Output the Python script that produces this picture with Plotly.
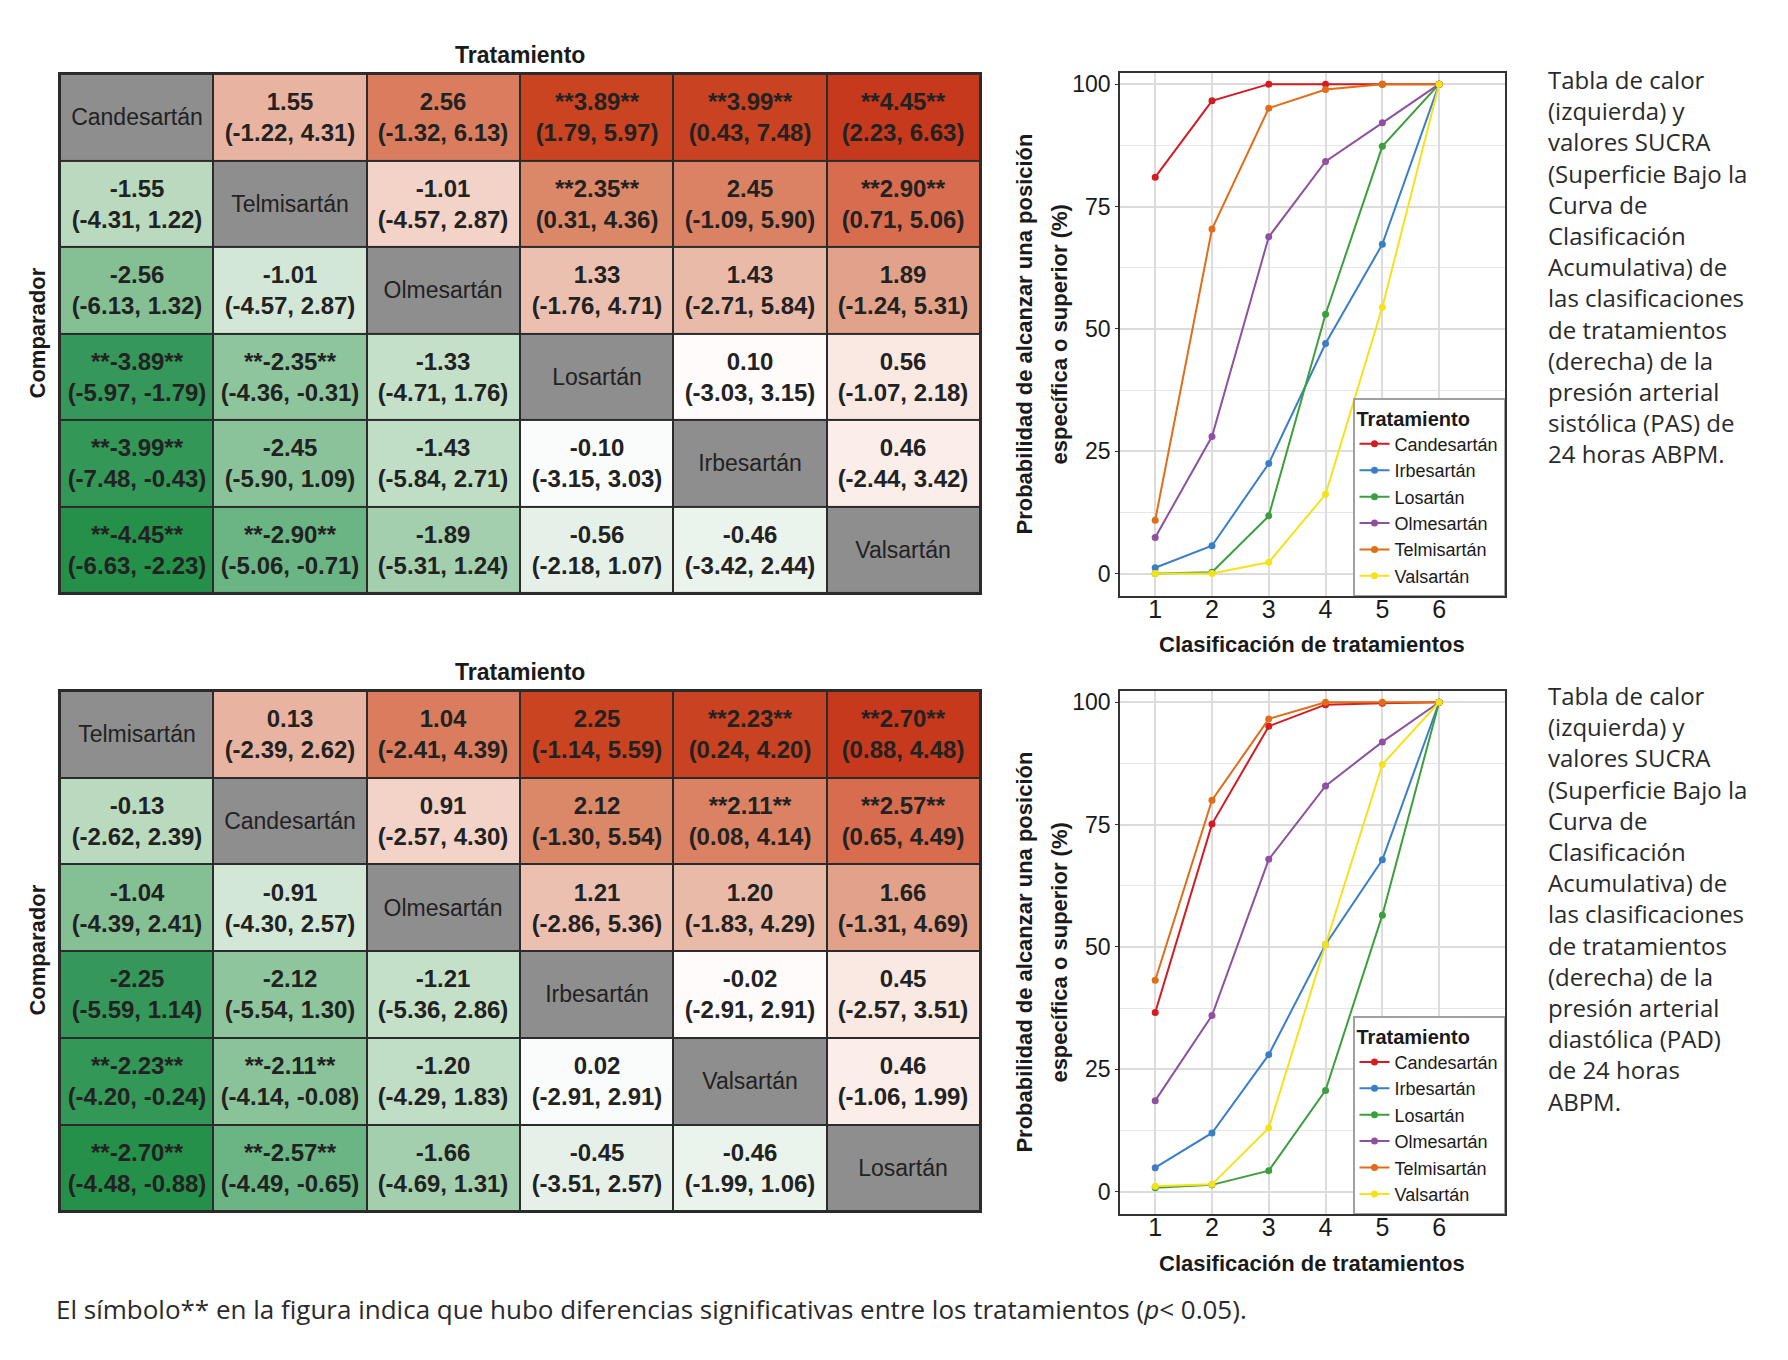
import plotly.graph_objects as go

W, H = 1788, 1360

SANS = "Liberation Sans, Arial, sans-serif"
BODY = "Open Sans, Roboto, sans-serif"

# --- tablas de calor -------------------------------------------------------
farmacos_pas = ['Candesartán', 'Telmisartán', 'Olmesartán', 'Losartán', 'Irbesartán', 'Valsartán']
farmacos_pad = ['Telmisartán', 'Candesartán', 'Olmesartán', 'Irbesartán', 'Valsartán', 'Losartán']

# fila = comparador, columna = tratamiento
dif_pas = [
    [None, 1.55, 2.56, 3.89, 3.99, 4.45],
    [-1.55, None, -1.01, 2.35, 2.45, 2.90],
    [-2.56, -1.01, None, 1.33, 1.43, 1.89],
    [-3.89, -2.35, -1.33, None, 0.10, 0.56],
    [-3.99, -2.45, -1.43, -0.10, None, 0.46],
    [-4.45, -2.90, -1.89, -0.56, -0.46, None],
]
inf_pas = [
    [None, -1.22, -1.32, 1.79, 0.43, 2.23],
    [-4.31, None, -4.57, 0.31, -1.09, 0.71],
    [-6.13, -4.57, None, -1.76, -2.71, -1.24],
    [-5.97, -4.36, -4.71, None, -3.03, -1.07],
    [-7.48, -5.90, -5.84, -3.15, None, -2.44],
    [-6.63, -5.06, -5.31, -2.18, -3.42, None],
]
sup_pas = [
    [None, 4.31, 6.13, 5.97, 7.48, 6.63],
    [1.22, None, 2.87, 4.36, 5.90, 5.06],
    [1.32, 2.87, None, 4.71, 5.84, 5.31],
    [-1.79, -0.31, 1.76, None, 3.15, 2.18],
    [-0.43, 1.09, 2.71, 3.03, None, 3.42],
    [-2.23, -0.71, 1.24, 1.07, 2.44, None],
]
# valor usado para el color (la celda -1.01 de arriba esta pintada como +1.01)
fill_pas = [
    [None, 1.55, 2.56, 3.89, 3.99, 4.45],
    [-1.55, None, 1.01, 2.35, 2.45, 2.90],
    [-2.56, -1.01, None, 1.33, 1.43, 1.89],
    [-3.89, -2.35, -1.33, None, 0.10, 0.56],
    [-3.99, -2.45, -1.43, -0.10, None, 0.46],
    [-4.45, -2.90, -1.89, -0.56, -0.46, None],
]

dif_pad = [
    [None, 0.13, 1.04, 2.25, 2.23, 2.70],
    [-0.13, None, 0.91, 2.12, 2.11, 2.57],
    [-1.04, -0.91, None, 1.21, 1.20, 1.66],
    [-2.25, -2.12, -1.21, None, -0.02, 0.45],
    [-2.23, -2.11, -1.20, 0.02, None, 0.46],
    [-2.70, -2.57, -1.66, -0.45, -0.46, None],
]
inf_pad = [
    [None, -2.39, -2.41, -1.14, 0.24, 0.88],
    [-2.62, None, -2.57, -1.30, 0.08, 0.65],
    [-4.39, -4.30, None, -2.86, -1.83, -1.31],
    [-5.59, -5.54, -5.36, None, -2.91, -2.57],
    [-4.20, -4.14, -4.29, -2.91, None, -1.06],
    [-4.48, -4.49, -4.69, -3.51, -1.99, None],
]
sup_pad = [
    [None, 2.62, 4.39, 5.59, 4.20, 4.48],
    [2.39, None, 4.30, 5.54, 4.14, 4.49],
    [2.41, 2.57, None, 5.36, 4.29, 4.69],
    [1.14, 1.30, 2.86, None, 2.91, 3.51],
    [-0.24, -0.08, 1.83, 2.91, None, 1.99],
    [-0.88, -0.65, 1.31, 2.57, 1.06, None],
]
# la figura original reutiliza el mismo sombreado que la tabla de PAS
fill_pad = fill_pas

# --- curvas SUCRA ----------------------------------------------------------
clasif = [1, 2, 3, 4, 5, 6]
nombres_leyenda = ['Candesartán', 'Irbesartán', 'Losartán', 'Olmesartán', 'Telmisartán', 'Valsartán']
colores = ['#d41b22', '#3a7fc6', '#3d9e3d', '#8e519f', '#e06d17', '#f5e21b']

cand_pas = [81.0, 96.6, 100, 100, 100, 100]
irbe_pas = [1.2, 5.7, 22.5, 47.0, 67.3, 100]
losa_pas = [0, 0.3, 11.8, 53.0, 87.3, 100]
olme_pas = [7.4, 28.0, 68.8, 84.2, 92.1, 100]
telm_pas = [10.9, 70.4, 95.1, 98.9, 100, 100]
vals_pas = [0, 0, 2.3, 16.2, 54.4, 100]

cand_pad = [36.6, 75.1, 95.1, 99.5, 99.8, 100]
irbe_pad = [4.9, 12.0, 28.0, 50.5, 67.8, 100]
losa_pad = [0.8, 1.4, 4.3, 20.7, 56.5, 100]
olme_pad = [18.6, 36.0, 67.9, 82.9, 91.9, 100]
telm_pad = [43.2, 80.0, 96.6, 100, 100, 100]
vals_pad = [1.1, 1.5, 13.0, 50.5, 87.3, 100]

texto_pas = ("Tabla de calor<br>(izquierda) y<br>valores SUCRA<br>(Superficie Bajo la<br>Curva de<br>"
             "Clasificación<br>Acumulativa) de<br>las clasificaciones<br>de tratamientos<br>(derecha) de la<br>"
             "presión arterial<br>sistólica (PAS) de<br>24 horas ABPM.")
texto_pad = ("Tabla de calor<br>(izquierda) y<br>valores SUCRA<br>(Superficie Bajo la<br>Curva de<br>"
             "Clasificación<br>Acumulativa) de<br>las clasificaciones<br>de tratamientos<br>(derecha) de la<br>"
             "presión arterial<br>diastólica (PAD)<br>de 24 horas<br>ABPM.")


def px(x):
    return x / W


def py(y):
    return 1 - y / H


# escala divergente verde-blanco-rojo
anclas = [(-4.45, '#25904a'), (-3.9, '#34985a'), (-2.9, '#6bb585'), (-2.5, '#88c297'),
          (-1.9, '#a3cfad'), (-1.5, '#bcdcc2'), (-1.0, '#d3e7d6'), (-0.5, '#e8f2ea'),
          (0.0, '#ffffff'), (0.5, '#fbebe6'), (1.0, '#f3d3c8'), (1.4, '#eabcab'),
          (1.9, '#e2a189'), (2.4, '#da8565'), (2.9, '#d76c4f'), (3.9, '#ca4422'), (4.45, '#c6391d')]
escala = [[(v + 4.45) / 8.9, c] for v, c in anclas]


def etiquetas(dif, inf, sup):
    out = []
    for i in range(len(dif)):
        fila = []
        for j in range(len(dif)):
            if dif[i][j] is None:
                fila.append('')
                continue
            sig = '**' if (inf[i][j] > 0 or sup[i][j] < 0) else ''
            fila.append(f"{sig}{dif[i][j]:.2f}{sig}<br>({inf[i][j]:.2f}, {sup[i][j]:.2f})")
        out.append(fila)
    return out


fig = go.Figure()


def tabla(farmacos, dif, inf, sup, fill, xa, ya):
    n = len(farmacos)
    fig.add_trace(go.Heatmap(
        x=farmacos, y=farmacos, z=fill, text=etiquetas(dif, inf, sup), texttemplate='%{text}',
        textfont=dict(family=SANS, size=24, color='#222222', weight='bold'),
        colorscale=escala, zmin=-4.45, zmax=4.45, showscale=False, xgap=2, ygap=2,
        hoverinfo='skip', xaxis=xa, yaxis=ya))
    diag = [[1 if i == j else None for j in range(n)] for i in range(n)]
    nombres = [[farmacos[i] if i == j else '' for j in range(n)] for i in range(n)]
    fig.add_trace(go.Heatmap(
        x=farmacos, y=farmacos, z=diag, text=nombres, texttemplate='%{text}',
        textfont=dict(family=SANS, size=23, color='#222222'),
        colorscale=[[0, '#8f8e8f'], [1, '#8f8e8f']], showscale=False, xgap=2, ygap=2,
        hoverinfo='skip', xaxis=xa, yaxis=ya))
    fig.add_shape(type='rect', xref=xa + ' domain', yref=ya + ' domain', x0=0, x1=1, y0=0, y1=1,
                  fillcolor='#2b2b2b', line_width=0, layer='below')


tabla(farmacos_pas, dif_pas, inf_pas, sup_pas, fill_pas, 'x', 'y')
tabla(farmacos_pad, dif_pad, inf_pad, sup_pad, fill_pad, 'x3', 'y3')

series_pas = [cand_pas, irbe_pas, losa_pas, olme_pas, telm_pas, vals_pas]
series_pad = [cand_pad, irbe_pad, losa_pad, olme_pad, telm_pad, vals_pad]
for nombre, col, s in zip(nombres_leyenda, colores, series_pas):
    fig.add_trace(go.Scatter(x=clasif, y=s, mode='lines+markers', name=nombre,
                             line=dict(color=col, width=2), marker=dict(color=col, size=7),
                             xaxis='x2', yaxis='y2', legend='legend'))
for nombre, col, s in zip(nombres_leyenda, colores, series_pad):
    fig.add_trace(go.Scatter(x=clasif, y=s, mode='lines+markers', name=nombre,
                             line=dict(color=col, width=2), marker=dict(color=col, size=7),
                             xaxis='x4', yaxis='y4', legend='legend2'))

eje_tabla = dict(showgrid=False, zeroline=False, showticklabels=False, ticks='',
                 showline=True, mirror=True, linecolor='#2b2b2b', linewidth=2)
eje_x_linea = dict(range=[0.38, 7.16], tickvals=clasif, showgrid=True, gridcolor='#dcdcdc', gridwidth=1.5,
                   zeroline=False, showline=True, mirror=True, linecolor='#333333', linewidth=1.5,
                   ticks='', ticklabelstandoff=-10,
                   tickfont=dict(family=SANS, size=25, color='#1a1a1a'))
eje_y_linea = dict(range=[-4.6, 102.3], tickvals=[0, 25, 50, 75, 100], showgrid=True, gridcolor='#dcdcdc',
                   gridwidth=1.5, zeroline=False, showline=True, mirror=True, linecolor='#333333',
                   linewidth=1.5, ticks='outside', ticklen=3, tickcolor='#333333',
                   tickfont=dict(family=SANS, size=23, color='#1a1a1a'),
                   minor=dict(tickvals=[12.5, 37.5, 62.5, 87.5], showgrid=True, gridcolor='#e6e6e6', gridwidth=1))

ley = dict(xanchor='right', yanchor='bottom', bgcolor='white', bordercolor='#a0a0a0', borderwidth=1.5,
           font=dict(family=SANS, size=18, color='#1a1a1a'), tracegroupgap=0, itemwidth=30,
           title=dict(text='<b>Tratamiento</b>', side='top', font=dict(family=SANS, size=20, color='#1a1a1a')))

fig.update_layout(
    width=W, height=H, margin=dict(l=0, r=0, t=0, b=0),
    paper_bgcolor='white', plot_bgcolor='white', showlegend=True,
    xaxis=dict(domain=[px(60), px(980)], anchor='y', **eje_tabla),
    yaxis=dict(domain=[py(592), py(72)], anchor='x', autorange='reversed', **eje_tabla),
    xaxis3=dict(domain=[px(60), px(980)], anchor='y3', **eje_tabla),
    yaxis3=dict(domain=[py(1211), py(690)], anchor='x3', autorange='reversed', **eje_tabla),
    xaxis2=dict(domain=[px(1120), px(1505)], anchor='y2', **eje_x_linea),
    yaxis2=dict(domain=[py(595), py(71)], anchor='x2', **eje_y_linea),
    xaxis4=dict(domain=[px(1120), px(1505)], anchor='y4', **eje_x_linea),
    yaxis4=dict(domain=[py(1214), py(690)], anchor='x4', **eje_y_linea),
    legend=dict(x=px(1505), y=py(595), **ley),
    legend2=dict(x=px(1505), y=py(1214), **ley),
)

anots = []
for y_tit, y_comp, y_lin, y_txt, y_xt, texto in [(53, 332, 333, 59, 643, texto_pas),
                                                  (671, 950, 952, 676, 1263, texto_pad)]:
    anots.append(dict(x=px(520), y=py(y_tit), text='<b>Tratamiento</b>',
                      font=dict(family=SANS, size=23, color='#1a1a1a')))
    anots.append(dict(x=px(38), y=py(y_comp), text='<b>Comparador</b>', textangle=-90,
                      font=dict(family=SANS, size=22, color='#1a1a1a')))
    anots.append(dict(x=px(1025), y=py(y_lin), text='<b>Probabilidad de alcanzar una posición</b>',
                      textangle=-90, font=dict(family=SANS, size=22, color='#1a1a1a')))
    anots.append(dict(x=px(1060), y=py(y_lin), text='<b>específica o superior (%)</b>',
                      textangle=-90, font=dict(family=SANS, size=22, color='#1a1a1a')))
    anots.append(dict(x=px(1312), y=py(y_xt), text='<b>Clasificación de tratamientos</b>',
                      font=dict(family=SANS, size=22, color='#1a1a1a')))
    anots.append(dict(x=px(1546), y=py(y_txt), text=texto, xanchor='left', yanchor='top', align='left',
                      font=dict(family=BODY, size=24, color='#2a2a2a')))
anots.append(dict(x=px(54), y=py(1309), xanchor='left',
                  text='El símbolo** en la figura indica que hubo diferencias significativas entre los '
                       'tratamientos (<i>p</i>< 0.05).',
                  font=dict(family=BODY, size=26, color='#2a2a2a')))
for a in anots:
    a.update(xref='paper', yref='paper', showarrow=False)
    a.setdefault('xanchor', 'center')
    a.setdefault('yanchor', 'middle')
fig.update_layout(annotations=anots)

# sin margen de pagina para que la figura empiece en (0, 0)
fig.write_html("out.html", config={'displayModeBar': False},
               post_script="document.body.style.margin = '0';")
